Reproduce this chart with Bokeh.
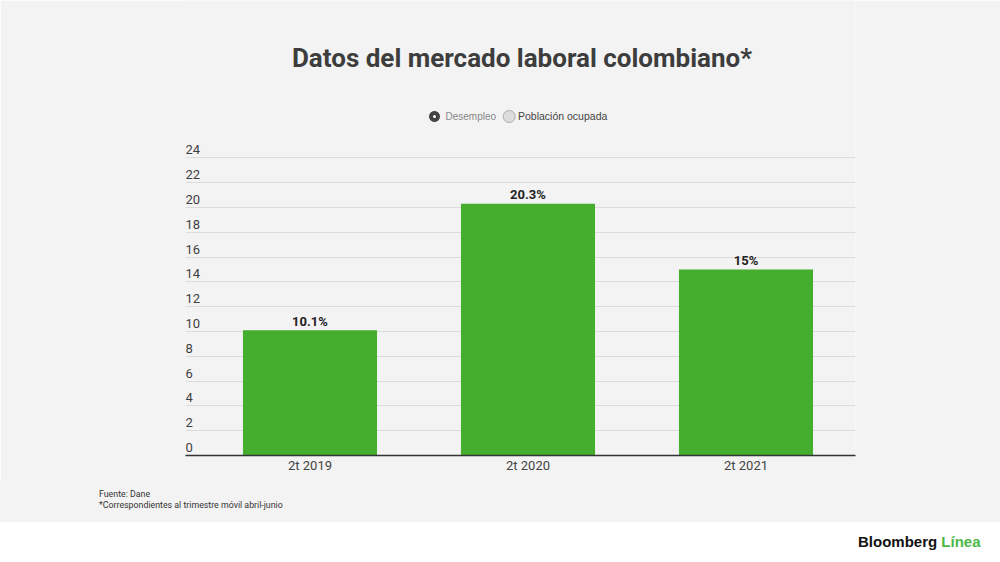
from bokeh.plotting import figure
from bokeh.models import Range1d, FixedTicker, Label, ColumnDataSource, Div
from bokeh.layouts import column
from bokeh.core.properties import value
from bokeh.embed import file_html
from bokeh.resources import INLINE

# ---- data ----
title = "Datos del mercado laboral colombiano*"
categories = ["2t 2019", "2t 2020", "2t 2021"]
desempleo = [10.1, 20.3, 15.0]
y_ticks = [0, 2, 4, 6, 8, 10, 12, 14, 16, 18, 20, 22, 24]
y_tick_labels = [str(t) for t in y_ticks]
series_names = ["Desempleo", "Población ocupada"]
notes = ["Fuente: Dane", "*Correspondientes al trimestre móvil abril-junio"]
brand = ["Bloomberg", "Línea"]

# ---- style / layout ----
BG = "#f3f3f3"
GREEN = "#45ae2e"
FONT = "Roboto"
W, H_MAIN, H_NOTES, H_FOOT = 1000, 480, 42, 40
PX_PER_CAT = 218.0      # pixels per category slot
PX_PER_UNIT = 12.404    # pixels per y unit
FRAME_L, FRAME_R, FRAME_B = 185, 855, 455   # page pixels

x_start = -0.5 - 15.5 / PX_PER_CAT
x_end = 2.5 + 0.5 / PX_PER_CAT
y_end = FRAME_B / PX_PER_UNIT


def dx(px):  # page pixel x -> data x
    return x_start + (px - FRAME_L) / PX_PER_CAT


def dy(py):  # page pixel y -> data y
    return (FRAME_B - py) / PX_PER_UNIT


xs = list(range(len(categories)))
src = ColumnDataSource(dict(
    x=xs, cat=categories, v=desempleo,
    lab=[f"{v:g}%" for v in desempleo],
))

p = figure(
    width=W, height=H_MAIN, title=None,
    x_range=Range1d(x_start, x_end), y_range=Range1d(0, y_end),
    output_backend="svg", toolbar_location=None,
    min_border_left=FRAME_L, min_border_right=W - FRAME_R,
    min_border_top=0, min_border_bottom=H_MAIN - FRAME_B,
    background_fill_color=BG, border_fill_color=BG, outline_line_color=None,
)

# axes / grid
p.yaxis.visible = False
p.ygrid.ticker = FixedTicker(ticks=y_ticks)
p.ygrid.grid_line_color = "#dcdcdc"
p.ygrid.grid_line_width = 1
p.xgrid.visible = False

p.xaxis.ticker = FixedTicker(ticks=xs)
p.xaxis.major_label_overrides = {i: c for i, c in enumerate(categories)}
p.xaxis.major_tick_in = 0
p.xaxis.major_tick_out = 0
p.xaxis.minor_tick_in = 0
p.xaxis.minor_tick_out = 0
p.xaxis.axis_line_color = "#333333"
p.xaxis.axis_line_width = 1.5
p.xaxis.major_label_text_font = FONT
p.xaxis.major_label_text_font_size = "13px"
p.xaxis.major_label_text_color = "#444444"
p.xaxis.major_label_standoff = 2

# bars
p.vbar(x="x", top="v", width=0.615, source=src, fill_color=GREEN, line_color=None)

# bar value labels
p.text(x="x", y="v", text="lab", source=src, text_align="center",
       text_baseline="alphabetic", y_offset=-9, text_font=value(FONT),
       text_font_size="13px", text_font_style="bold", text_color="#222222")

# y tick labels (left-aligned, sitting above gridlines)
p.text(x=[x_start] * len(y_ticks), y=y_ticks, text=y_tick_labels,
       text_align="left", text_baseline="alphabetic", y_offset=-8,
       text_font=value(FONT), text_font_size="13px", text_color="#3f3f3f")

# title
p.add_layout(Label(x=dx(521.5), y=dy(57.6), text=title,
                   text_align="center", text_baseline="alphabetic", text_font=FONT,
                   text_font_size="26px", text_font_style="bold", text_color="#3d3d3d"))

# legend (manual)
legend_icon_x = [dx(434), dx(508.7)]
legend_text_x = [dx(445), dx(517.5)]
legend_sizes = ["10px", "10.5px"]
legend_y = dy(116)
p.scatter(x=legend_icon_x, y=[legend_y] * 2, marker=["circle_dot", "circle"], size=12,
          fill_color=["#444444", "#dddddd"], line_color=["white", "#aaaaaa"], line_width=1)
legend_colors = ["#888888", "#444444"]
for name, tx, col, fs in zip(series_names, legend_text_x, legend_colors, legend_sizes):
    p.add_layout(Label(x=tx, y=dy(115.5), text=name, text_align="left",
                       text_baseline="alphabetic", text_font="Liberation Sans",
                       text_font_size=fs, text_color=col))

# notes block
notes_div = Div(
    text=('<div style="padding:8.9px 0 0 99px; font-family:Roboto; font-size:8.8px; '
          'line-height:11px; color:#333333; white-space:nowrap;">'
          + "<br>".join(notes) + "</div>"),
    width=W, height=H_NOTES, margin=0,
    styles={"background-color": BG},
)

# footer with brand
footer_div = Div(
    text=('<div style="padding:9.5px 0 0 858px; font-family:\'Liberation Sans\'; font-size:15px; '
          'font-weight:bold; line-height:20px; white-space:nowrap;">'
          f'<span style="color:#111111">{brand[0]}</span> '
          f'<span style="color:#4db848">{brand[1]}</span></div>'),
    width=W, height=H_FOOT, margin=0,
    styles={"background-color": "white"},
)

layout = column(p, notes_div, footer_div, spacing=0)
open("out.html", "w").write(file_html(layout, INLINE, title=title))
